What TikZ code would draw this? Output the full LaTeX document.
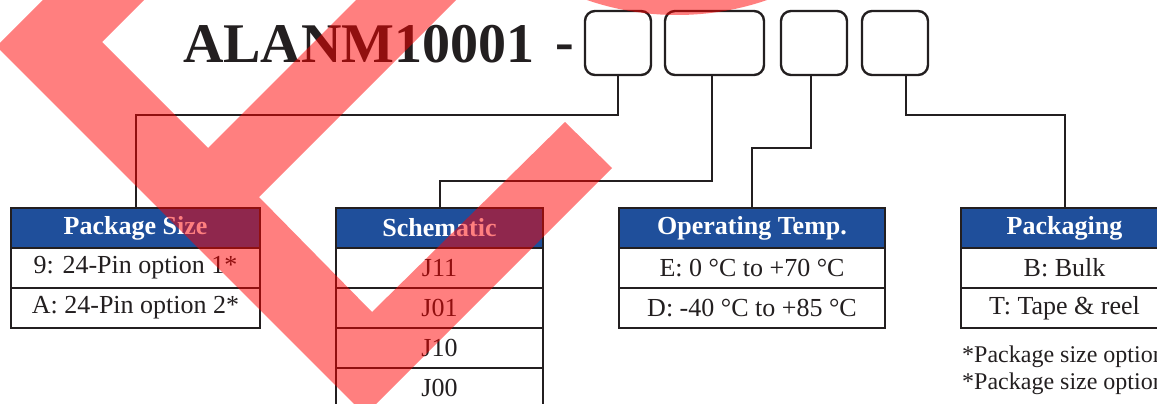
\documentclass[tikz,border=0pt]{standalone}
\usepackage{fontspec}
\setmainfont{Liberation Serif}
\usepackage{tikz}
\usetikzlibrary{positioning}
\definecolor{hdblue}{HTML}{1F4F9B}
\definecolor{ink}{HTML}{231F20}
\definecolor{stamp}{HTML}{FF0000}

\begin{document}
\begin{tikzpicture}[x=1pt,y=-1pt,
  slot/.style={draw=ink,line width=2.4pt,rounded corners=10pt,minimum height=64pt,outer sep=0pt},
  thead/.style={draw=ink,line width=2.2pt,fill=hdblue,text=white,minimum height=40pt,
                inner sep=2pt,outer sep=0pt,font=\fontsize{26}{30}\selectfont\bfseries},
  tcell/.style={draw=ink,line width=2.2pt,fill=white,text=ink,minimum height=40pt,
                inner sep=2pt,outer sep=0pt,font=\fontsize{26}{30}\selectfont},
  wire/.style={ink,line width=2pt},
  ovl/.style={fill=stamp,opacity=0.5}
]
  \useasboundingbox (0,0) rectangle (1157,404);

  \node[anchor=base west,inner sep=0pt,text=ink,font=\fontsize{56}{60}\selectfont\bfseries] (pn) at (183,63) {ALANM10001};
  \node[anchor=base,inner sep=0pt,text=ink,font=\fontsize{56}{60}\selectfont\bfseries] (dash) at (564.5,61) {-};

  \node[slot,minimum width=66pt] (b1) at (618,43) {};
  \node[slot,minimum width=99pt,right=14pt of b1] (b2) {};
  \node[slot,minimum width=66pt,right=17pt of b2] (b3) {};
  \node[slot,minimum width=66pt,right=15pt of b3] (b4) {};

  \node[thead,minimum width=249pt] (psH) at (135.5,228) {Package Size};
  \node[tcell,minimum width=249pt,below=0pt of psH] (ps1) {9: 24-Pin option 1*};
  \node[tcell,minimum width=249pt,below=0pt of ps1] (ps2) {A: 24-Pin option 2*};

  \node[thead,minimum width=207pt] (scH) at (439.5,228) {Schematic};
  \node[tcell,minimum width=207pt,below=0pt of scH] (sc1) {J11};
  \node[tcell,minimum width=207pt,below=0pt of sc1] (sc2) {J01};
  \node[tcell,minimum width=207pt,below=0pt of sc2] (sc3) {J10};
  \node[tcell,minimum width=207pt,below=0pt of sc3] (sc4) {J00};

  \node[thead,minimum width=266pt] (otH) at (752,228) {Operating Temp.};
  \node[tcell,minimum width=266pt,below=0pt of otH] (ot1) {E: 0 °C to +70 °C};
  \node[tcell,minimum width=266pt,below=0pt of ot1] (ot2) {D: -40 °C to +85 °C};

  \node[thead,minimum width=207pt] (pkH) at (1064.5,228) {Packaging};
  \node[tcell,minimum width=207pt,below=0pt of pkH] (pk1) {B: Bulk};
  \node[tcell,minimum width=207pt,below=0pt of pk1] (pk2) {T: Tape \& reel};

  \node[anchor=base west,inner sep=0pt,text=ink,font=\fontsize{24}{28}\selectfont] (fn1) at (962,362) {*Package size option};
  \node[anchor=base west,inner sep=0pt,text=ink,font=\fontsize{24}{28}\selectfont] (fn2) at (962,389.5) {*Package size option};

  \draw[wire] (b1.south) |- ([yshift=93pt]psH.north) -- (psH.north);
  \draw[wire] ([xshift=-2.8pt]b2.south) |- ([yshift=27.5pt]scH.north) -- (scH.north);
  \draw[wire] ([xshift=-3.3pt]b3.south) |- ([yshift=60pt]otH.north) -- (otH.north);
  \draw[wire] ([xshift=10.7pt]b4.south) |- ([yshift=93pt]pkH.north) -- (pkH.north);

  \fill[ovl] (63,-20) -- (-3.5,46.5) -- (365,415) -- (612,168) -- (565,122) -- (372,312)
    -- (259,197) -- (476,-20) -- (376,-20) -- (208,148) -- (102,42) -- (164,-20) -- cycle;
  \fill[ovl] (677,-262) circle[radius=277pt];
\end{tikzpicture}
\end{document}
